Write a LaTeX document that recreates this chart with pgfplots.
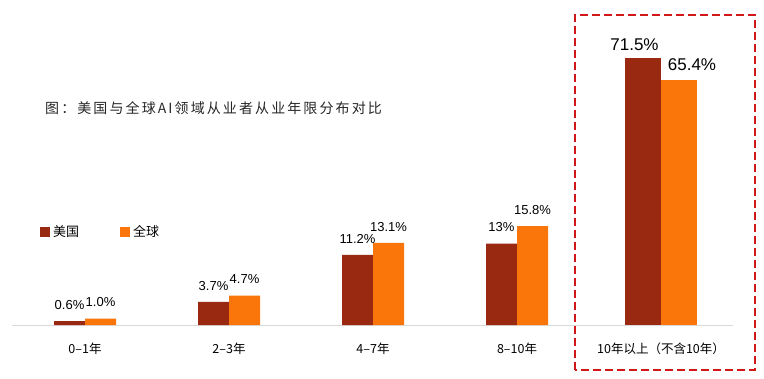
\documentclass[border=0pt]{standalone}
\usepackage{pgfplots}
\pgfplotsset{compat=1.18}
\usepackage{pgfplotstable}
\usepackage{fontspec}
\setmainfont{Liberation Sans}
\newfontfamily\cjk{Noto Sans CJK SC}
\newfontfamily\cjktitle[LetterSpace=15]{Noto Sans CJK SC}
\definecolor{usc}{HTML}{9A2912}
\definecolor{glc}{HTML}{FA760A}
\definecolor{boxred}{HTML}{D01818}

\pgfplotstableread{
x us uslab gl gllab
0 0.6 0.6 1.0 1.0
1 3.7 3.7 4.7 4.7
2 11.2 11.2 13.1 13.1
3 13 13 15.8 15.8
}\datafour
\pgfplotstableread{
x us uslab gl gllab
4 71.5 71.5 65.4 65.4
}\datalast

\pgfplotsset{
  sqlegend/.style={legend image code/.code={\fill[##1] (0pt,-5pt) rectangle (10pt,5pt); \path (13pt,0pt);}},
}

\begin{document}
\begin{tikzpicture}
\useasboundingbox (0,0) rectangle (764pt,378pt);
\begin{axis}[
  at={(12pt,53pt)}, anchor=south west,
  scale only axis, width=721pt, height=305pt,
  xmin=-0.507, xmax=4.5, ymin=0, ymax=48.72,
  axis x line*=bottom, axis y line=none,
  x axis line style={draw=black!15, line width=1pt, -},
  xtick={0,1,2,3,4},
  xticklabels={0–1年,2–3年,4–7年,8–10年,10年以上（不含10年）},
  ytick=\empty,
  major tick length=0pt,
  xticklabel style={font=\cjk\fontsize{12.5}{14}\selectfont, anchor=base, yshift=-28pt, inner sep=0pt},
  legend columns=2,
  legend style={at={(0.0388,0.305)}, anchor=west, draw=none, fill=none, inner sep=0pt,
    font=\cjk\fontsize{13}{15}\selectfont, nodes={inner sep=0pt},
    /tikz/every even column/.append style={column sep=41pt}},
  point meta=explicit symbolic,
  nodes near coords={\pgfplotspointmeta\%},
  every node near coord/.append style={font=\fontsize{13}{15}\selectfont, anchor=south, inner sep=0pt, yshift=11.5pt},
]
\addplot[ybar, sqlegend, fill=usc, draw=none, bar width=31pt, bar shift=-15.5pt,
  every node near coord/.append style={xshift=-15.5pt}]
  table[x=x, y=us, meta=uslab]{\datafour};
\addlegendentry{美国}
\addplot[ybar, sqlegend, fill=glc, draw=none, bar width=31pt, bar shift=15.5pt,
  every node near coord/.append style={xshift=15.5pt}]
  table[x=x, y=gl, meta=gllab]{\datafour};
\addlegendentry{全球}
\end{axis}

\begin{axis}[
  at={(12pt,53pt)}, anchor=south west,
  scale only axis, width=721pt, height=305pt,
  xmin=-0.507, xmax=4.5, ymin=0, ymax=81.55,
  hide axis,
  point meta=explicit symbolic,
  nodes near coords={\pgfplotspointmeta\%},
  every node near coord/.append style={font=\fontsize{17}{19}\selectfont, anchor=south, inner sep=0pt},
]
\addplot[ybar, fill=usc, draw=none, bar width=36pt, bar shift=-18pt,
  every node near coord/.append style={yshift=7pt, xshift=-26.5pt}]
  table[x=x, y=us, meta=uslab]{\datalast};
\addplot[ybar, fill=glc, draw=none, bar width=36pt, bar shift=18pt,
  every node near coord/.append style={yshift=10pt, xshift=31pt}]
  table[x=x, y=gl, meta=gllab]{\datalast};
\end{axis}

\node[anchor=west, inner sep=0pt, text=black!85] at (45pt,270pt)
  {\cjktitle\fontsize{14}{16}\selectfont 图：美国与全球AI领域从业者从业年限分布对比};

\draw[boxred, line width=2pt, dash pattern=on 8pt off 4pt] (575pt,8pt) rectangle (755pt,363pt);
\end{tikzpicture}
\end{document}
